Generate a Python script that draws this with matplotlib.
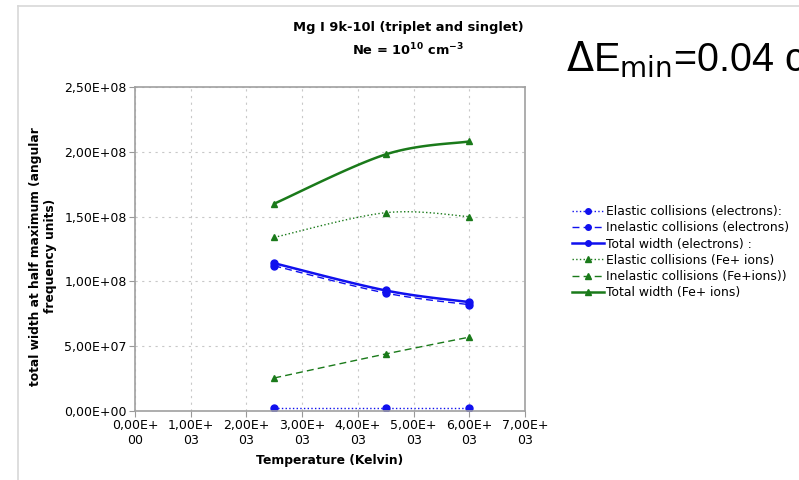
import numpy as np
import matplotlib
matplotlib.use('Agg')
import matplotlib.pyplot as plt
from matplotlib.lines import Line2D

# data
temps = [2500, 4500, 6000]
el_e = [2.0e6, 2.0e6, 2.0e6]
inel_e = [1.12e8, 9.1e7, 8.2e7]
tot_e = [1.14e8, 9.3e7, 8.4e7]
el_fe = [1.34e8, 1.53e8, 1.50e8]
inel_fe = [2.55e7, 4.4e7, 5.7e7]
tot_fe = [1.60e8, 1.98e8, 2.08e8]

labels = ['Elastic collisions (electrons):',
          'Inelastic collisions (electrons)',
          'Total width (electrons) :',
          'Elastic collisions (Fe+ ions)',
          'Inelastic collisions (Fe+ions))',
          'Total width (Fe+ ions)']

xticks = [0, 1000, 2000, 3000, 4000, 5000, 6000, 7000]
xticklabels = ['0,00E+\n00', '1,00E+\n03', '2,00E+\n03', '3,00E+\n03',
               '4,00E+\n03', '5,00E+\n03', '6,00E+\n03', '7,00E+\n03']
yticks = [0, 5e7, 1e8, 1.5e8, 2e8, 2.5e8]
yticklabels = ['0,00E+00', '5,00E+07', '1,00E+08', '1,50E+08',
               '2,00E+08', '2,50E+08']

blue = '#1010ee'
green = '#1a7a1a'


def smooth(x, y, n=40):
    # excel style smoothed line (bezier through the points)
    x = np.asarray(x, float)
    y = np.asarray(y, float)
    pts = np.column_stack([x, y])
    xs, ys = [], []
    t = np.linspace(0, 1, n)[:, None]
    for i in range(len(pts) - 1):
        p1, p2 = pts[i], pts[i + 1]
        p0 = pts[i - 1] if i > 0 else p1
        p3 = pts[i + 2] if i + 2 < len(pts) else p2
        c1 = p1 + (p2 - p0) / 6
        c2 = p2 - (p3 - p1) / 6
        b = (1 - t) ** 3 * p1 + 3 * (1 - t) ** 2 * t * c1 \
            + 3 * (1 - t) * t ** 2 * c2 + t ** 3 * p2
        xs.extend(b[:, 0])
        ys.extend(b[:, 1])
    return xs, ys


fig = plt.figure(figsize=(7.99, 4.80), dpi=100)
ax = fig.add_axes([135 / 799, 1 - 411 / 480, 390 / 799, 324 / 480])

series = [
    (el_e, blue, ':', 'o', 1.0),
    (inel_e, blue, (0, (5, 3)), 'o', 1.0),
    (tot_e, blue, '-', 'o', 1.8),
    (el_fe, green, ':', '^', 1.0),
    (inel_fe, green, (0, (5, 3)), '^', 1.0),
    (tot_fe, green, '-', '^', 1.8),
]
handles = []
for (vals, c, ls, m, lw), lab in zip(series, labels):
    sx, sy = smooth(temps, vals)
    ax.plot(sx, sy, color=c, ls=ls, lw=lw)
    ax.plot(temps, vals, ls='none', marker=m, color=c, ms=5)
    handles.append(Line2D([], [], color=c, ls=ls, lw=lw, marker=m, ms=4))

ax.set_xlim(0, 7000)
ax.set_ylim(0, 2.5e8)
ax.set_xticks(xticks)
ax.set_yticks(yticks)
ax.set_xticklabels(xticklabels)
ax.set_yticklabels(yticklabels)
ax.tick_params(labelsize=9, length=4, color='#999999', pad=2)
ax.grid(True, ls=(0, (2, 4)), color='#c8c8c8', lw=0.8)
for s in ax.spines.values():
    s.set_color('#a0a0a0')
    s.set_linewidth(1.2)

ax.set_xlabel('Temperature (Kelvin)', fontsize=8.9, fontweight='bold', labelpad=5)
ax.set_ylabel('total width at half maximum (angular\nfrequency units)',
              fontsize=8.8, fontweight='bold')
ax.yaxis.set_label_coords(-0.2, 0.478)

fig.text(408 / 799, 1 - 27 / 480, 'Mg I 9k-10l (triplet and singlet)',
         ha='center', va='center', fontsize=9.4, fontweight='bold')
fig.text(408 / 799, 1 - 50 / 480, r'Ne = 10$^{\mathbf{10}}$ cm$^{\mathbf{-3}}$',
         ha='center', va='center', fontsize=9.4, fontweight='bold')

fig.legend(handles, labels, loc='upper left',
           bbox_to_anchor=(566 / 799, 1 - 199 / 480), frameon=False,
           fontsize=8.9, handlelength=2.6, handletextpad=0.1,
           labelspacing=0.26, borderpad=0)

fig.text(566 / 799, 1 - 60 / 480, r'$\Delta$E$_{\mathrm{min}}$=0.04 c',
         fontsize=28.5, family='Liberation Sans', va='center', ha='left')

# chart area frame
fig.add_artist(Line2D([18 / 799, 18 / 799], [0, 1 - 6 / 480],
                      color='#d8d8d8', lw=1.2))
fig.add_artist(Line2D([18 / 799, 1], [1 - 6 / 480, 1 - 6 / 480],
                      color='#d8d8d8', lw=1.2))

fig.savefig('out.png', dpi=100)
